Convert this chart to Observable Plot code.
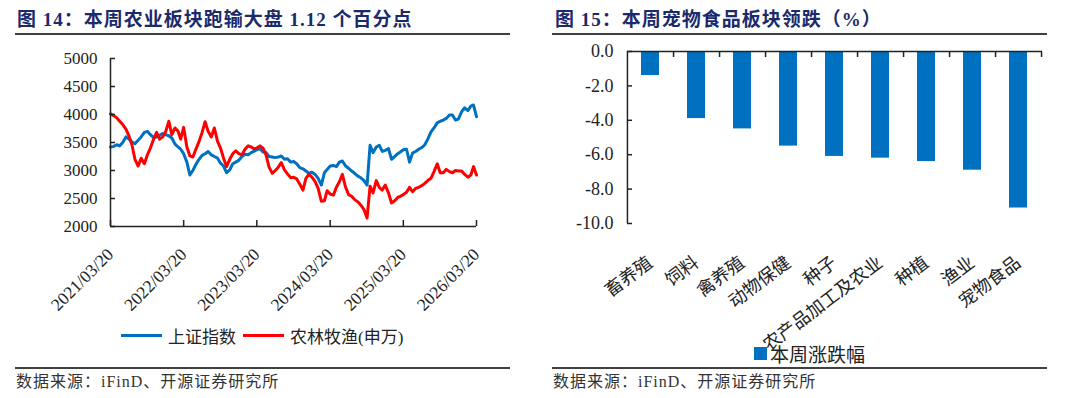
<!DOCTYPE html>
<html><head><meta charset="utf-8">
<script src="https://cdn.jsdelivr.net/npm/d3@7"></script>
<script src="https://cdn.jsdelivr.net/npm/@observablehq/plot@0.6"></script>
<style>
body{margin:0;background:#fff;width:1080px;height:398px;position:relative;overflow:hidden;font-family:"Liberation Serif","Noto Sans CJK SC",serif;}
.title{position:absolute;top:9px;font-size:19px;font-weight:bold;color:#1b2a6b;letter-spacing:1px;white-space:nowrap;line-height:22px;}
.rule{position:absolute;height:2px;background:#404040;}
.src{position:absolute;top:372px;font-size:16px;color:#333;letter-spacing:1px;white-space:nowrap;line-height:20px;}
.chart{position:absolute;top:40px;}
.legend{position:absolute;color:#222;display:flex;align-items:center;white-space:nowrap;}
.sw{display:inline-block;}
</style></head><body>
<div class="title" style="left:17px">图 14：本周农业板块跑输大盘 1.12 个百分点</div>
<div class="title" style="left:555px">图 15：本周宠物食品板块领跌（%）</div>
<div class="rule" style="left:15px;top:33px;width:495px"></div>
<div class="rule" style="left:552px;top:33px;width:495px"></div>
<div id="left" class="chart" style="left:0px"></div>
<div id="right" class="chart" style="left:540px"></div>
<div id="legL" class="legend" style="left:121px;top:325px;height:20px;font-size:17px"></div>
<div id="legR" class="legend" style="left:754px;top:343px;height:20px;font-size:19px"></div>
<div class="rule" style="left:15px;top:367px;width:495px"></div>
<div class="rule" style="left:552px;top:367px;width:495px"></div>
<div class="src" style="left:16px">数据来源：iFinD、开源证券研究所</div>
<div class="src" style="left:553px">数据来源：iFinD、开源证券研究所</div>
<script>
// ---------- Left chart data ----------
const dates = [
"2021-03-20",
"2021-04-05","2021-04-20","2021-05-05","2021-05-20","2021-06-05","2021-06-20","2021-07-05","2021-07-20","2021-08-05","2021-08-20","2021-09-05","2021-09-20","2021-10-05","2021-10-20","2021-11-05","2021-11-20","2021-12-05","2021-12-20",
"2022-01-05","2022-01-20","2022-02-05","2022-02-20","2022-03-05","2022-03-20","2022-04-05","2022-04-20","2022-05-05","2022-05-20","2022-06-05","2022-06-20","2022-07-05","2022-07-20","2022-08-05","2022-08-20","2022-09-05","2022-09-20","2022-10-05","2022-10-20","2022-11-05","2022-11-20","2022-12-05","2022-12-20",
"2023-01-05","2023-01-20","2023-02-05","2023-02-20","2023-03-05","2023-03-20","2023-04-05","2023-04-20","2023-05-05","2023-05-20","2023-06-05","2023-06-20","2023-07-05","2023-07-20","2023-08-05","2023-08-20","2023-09-05","2023-09-20","2023-10-05","2023-10-20","2023-11-05","2023-11-20","2023-12-05","2023-12-20",
"2024-01-05","2024-01-20","2024-02-05","2024-02-20","2024-03-05","2024-03-20","2024-04-05","2024-04-20","2024-05-05","2024-05-20","2024-06-05","2024-06-20","2024-07-05","2024-07-20","2024-08-05","2024-08-20","2024-09-05","2024-09-20","2024-10-05","2024-10-20","2024-11-05","2024-11-20","2024-12-05","2024-12-20",
"2025-01-05","2025-01-20","2025-02-05","2025-02-20","2025-03-05","2025-03-20","2025-04-05","2025-04-20","2025-05-05","2025-05-20","2025-06-05","2025-06-20","2025-07-05","2025-07-20","2025-08-05","2025-08-20","2025-09-05","2025-09-20","2025-10-05","2025-10-20","2025-11-05","2025-11-20","2025-12-05","2025-12-20",
"2026-01-05","2026-01-20","2026-02-05","2026-02-20","2026-03-05","2026-03-20"
];
const shIndex = [
3420,3430,3460,3440,3500,3600,3560,3510,3480,3540,
3600,3680,3700,3640,3590,3600,3630,3660,3640,3620,
3580,3470,3420,3380,3300,3150,2920,3000,3110,3200,
3270,3300,3340,3280,3250,3220,3130,3080,2960,3010,
3120,3150,3180,3250,3290,3280,3320,3340,3370,3390,
3330,3320,3250,3240,3230,3240,3260,3200,3210,3150,
3160,3120,3050,3030,2990,2950,2970,2930,2860,2740,
2960,3020,3080,3090,3070,3150,3170,3080,3040,2990,
2950,2900,2870,2820,2740,3450,3320,3420,3450,3340,
3360,3390,3200,3250,3300,3330,3370,3380,3150,3310,
3340,3380,3410,3460,3560,3690,3760,3850,3880,3900,
3930,3990,3990,3900,3920,4050,4120,4070,4150,4170,
3960
];
const agriIndex = [
4010,3980,3940,3880,3820,3740,3620,3460,3200,3080,
3220,3120,3280,3400,3550,3680,3560,3600,3690,3880,
3640,3760,3700,3560,3770,3420,3260,3240,3380,3520,
3680,3870,3700,3600,3760,3520,3400,3220,3070,3200,
3300,3350,3300,3280,3380,3440,3420,3390,3400,3440,
3400,3280,3060,2950,3000,3060,3140,3010,2940,2870,
2880,2850,2760,2650,2860,2930,2880,2800,2680,2450,
2460,2640,2580,2560,2700,2800,2930,2700,2570,2540,
2480,2440,2380,2300,2150,2720,2600,2820,2700,2650,
2740,2600,2420,2460,2520,2540,2570,2610,2700,2620,
2680,2700,2730,2770,2820,2860,2980,3120,2960,2960,
3020,2980,2960,3000,2990,2990,2930,2880,2920,3070,
2920
];
const seriesNames = ["上证指数", "农林牧渔(申万)"];
const seriesColors = ["#0070C0", "#FF0000"];
const xTickLabels = ["2021/03/20","2022/03/20","2023/03/20","2024/03/20","2025/03/20","2026/03/20"];
const yTicksL = [2000,2500,3000,3500,4000,4500,5000];

// ---------- Right chart data ----------
const categories = ["畜养殖","饲料","禽养殖","动物保健","种子","农产品加工及农业","种植","渔业","宠物食品"];
const weeklyChange = [-1.4,-3.9,-4.5,-5.5,-6.1,-6.2,-6.4,-6.9,-9.1];
const yTicksR = [0,-2,-4,-6,-8,-10];
const barName = "本周涨跌幅";
const barColor = "#0070C0";

const serif = '"Liberation Serif","Noto Sans CJK SC",serif';
const parseSlash = d3.utcParse("%Y/%m/%d");
const xTicks = xTickLabels.map(parseSlash);
const rows = dates.map((d, i) => ({date: new Date(d), sh: shIndex[i], agri: agriIndex[i]}));

const left = Plot.plot({
  width: 540, height: 325,
  marginLeft: 110, marginRight: 64, marginTop: 18, marginBottom: 139,
  style: {fontFamily: serif, fontSize: "17px", color: "#222", background: "transparent", overflow: "visible"},
  x: {type: "utc", domain: [xTicks[0], xTicks[xTicks.length - 1]]},
  y: {domain: [yTicksL[0], yTicksL[yTicksL.length - 1]]},
  marks: [
    Plot.line(rows, {x: "date", y: "sh", stroke: seriesColors[0], strokeWidth: 3, curve: "linear"}),
    Plot.line(rows, {x: "date", y: "agri", stroke: seriesColors[1], strokeWidth: 3, curve: "linear"}),
    Plot.ruleY([yTicksL[0]], {stroke: "#222", strokeWidth: 1.5}),
    Plot.ruleX([xTicks[0]], {stroke: "#222", strokeWidth: 1.5}),
    Plot.axisY({ticks: yTicksL, tickSize: 0, tickPadding: 13, fontSize: 17, label: null, tickFormat: d => String(d)}),
    Plot.axisY({ticks: yTicksL, tickSize: 5, dx: 5, tickFormat: () => "", label: null, stroke: "#222", strokeWidth: 1.5}),
    Plot.axisX({ticks: xTicks, tickSize: 0, tickPadding: 25, tickRotate: -45, fontSize: 17.5, tickFormat: d3.utcFormat("%Y/%m/%d"), label: null}),
    Plot.axisX({ticks: xTicks, tickSize: 6, dy: -6, tickFormat: () => "", label: null, stroke: "#222", strokeWidth: 1.5})
  ]
});
document.getElementById("left").appendChild(left);

const rML = 87, rMR = 38, rW = 540;
const stepR = (rW - rML - rMR) / categories.length;
const right = Plot.plot({
  width: rW, height: 325,
  marginLeft: rML, marginRight: rMR, marginTop: 11, marginBottom: 142,
  style: {fontFamily: serif, fontSize: "18px", color: "#222", background: "transparent", overflow: "visible"},
  x: {domain: categories, paddingInner: 0.6, paddingOuter: 0.3},
  y: {domain: [yTicksR[yTicksR.length - 1], yTicksR[0]]},
  marks: [
    Plot.barY(categories, {x: d => d, y: (d, i) => weeklyChange[i], fill: barColor}),
    Plot.ruleY([yTicksR[0]], {stroke: "#222", strokeWidth: 1.5}),
    Plot.ruleX([categories[0]], {dx: -stepR / 2, y1: yTicksR[yTicksR.length - 1], y2: yTicksR[0], stroke: "#222", strokeWidth: 1.5}),
    Plot.axisY({ticks: yTicksR, tickSize: 0, tickPadding: 14, fontSize: 18, label: null, tickFormat: d => d.toFixed(1)}),
    Plot.axisY({ticks: yTicksR, tickSize: 5, dx: 5, tickFormat: () => "", label: null, stroke: "#222", strokeWidth: 1.5}),
    Plot.axisX({anchor: "bottom", tickSize: 0, tickPadding: 37, tickRotate: -37, fontSize: 18, fontFamily: '"Noto Sans CJK SC",sans-serif', label: null}),
    Plot.axisX({anchor: "top", tickSize: 5, dy: 5, dx: stepR / 2, tickFormat: () => "", label: null, stroke: "#222", strokeWidth: 1.5})
  ]
});
document.getElementById("right").appendChild(right);

// ---------- Legends ----------
const legL = document.getElementById("legL");
seriesNames.forEach((n, i) => {
  const sw = document.createElement("span");
  sw.className = "sw";
  sw.style.cssText = `width:41px;height:3px;background:${seriesColors[i]};margin:0 6px 0 ${i ? 7 : 0}px`;
  const t = document.createElement("span");
  t.textContent = n;
  legL.appendChild(sw); legL.appendChild(t);
});
const legR = document.getElementById("legR");
const sq = document.createElement("span");
sq.className = "sw";
sq.style.cssText = `width:13px;height:13px;background:${barColor};margin-right:3px`;
const tr = document.createElement("span");
tr.textContent = barName;
legR.appendChild(sq); legR.appendChild(tr);
</script>
</body></html>
